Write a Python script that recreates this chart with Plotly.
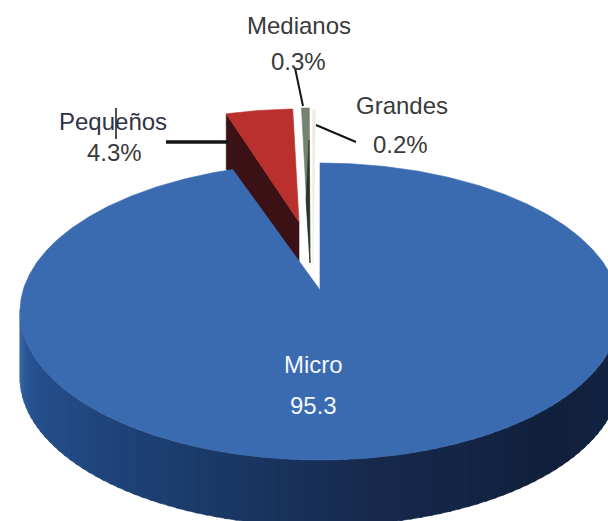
import numpy as np
import plotly.graph_objects as go

# Data
categories = ["Micro", "Pequeños", "Medianos", "Grandes"]
values = [95.3, 4.3, 0.3, 0.2]
value_labels = ["95.3", "4.3%", "0.3%", "0.2%"]

W, H = 608, 521
RX, RY, CY, CX = 300, 148.5, 311.5, 320
DEPTH = 66


def deg(v):
    return v / 100 * 360


def rim(t_deg, rx=RX, ry=RY, cx=CX, cy=CY):
    t = np.radians(t_deg)
    return cx + rx * np.sin(t), cy - ry * np.cos(t)


def face(t0, t1, tip, rx=RX, ry=RY, cx=CX, cy=CY):
    ts = np.linspace(t0, t1, max(int(abs(t1 - t0)) * 2, 2) + 1)
    xs, ys = rim(ts, rx, ry, cx, cy)
    return [tip[0], *xs, tip[0]], [tip[1], *ys, tip[1]]


def poly(x, y, color):
    return go.Scatter(x=x, y=y, mode="lines", fill="toself", fillcolor=color,
                      line=dict(width=0.6, color=color), hoverinfo="skip", showlegend=False)


def lerp(c0, c1, f):
    return tuple(a + (b - a) * f for a, b in zip(c0, c1))


fig = go.Figure()

# Angles: the big slice runs clockwise from 12 o'clock, the others follow it.
blue_end = deg(values[0])
red_t0 = blue_end - 360
red_t1 = red_t0 + deg(values[1])
med_t1 = red_t1 + deg(values[2])
gra_t1 = med_t1 + deg(values[3])

# Exploded small slices (rim is smaller: they are set further back)
SM_RX, SM_RY, SM_DEPTH = 250, 113, 55
red_tip = (299, 222)
med_tip = (310, 263)
gra_tip = (313, 265)

# Red slice: side, then top
rx0, ry0 = rim(red_t0, SM_RX, SM_RY, red_tip[0], red_tip[1])
fig.add_trace(poly([rx0, rx0, red_tip[0], red_tip[0], rx0],
                   [ry0, ry0 + SM_DEPTH, red_tip[1] + SM_DEPTH, red_tip[1], ry0], "#3a1114"))
fig.add_trace(poly(*face(red_t0, red_t1, red_tip, SM_RX, SM_RY, red_tip[0], red_tip[1]), "#b9302c"))

# Grandes slice: pale sliver
fig.add_trace(poly(*face(med_t1, gra_t1, gra_tip, SM_RX, SM_RY, gra_tip[0] + 1, 223), "#f1edde"))

# Medianos slice: grey-green top, dark strip down its lower right
fig.add_trace(poly(*face(red_t1, med_t1, med_tip, 420, SM_RY, 312, 221), "#74826f"))
fig.add_trace(poly([med_tip[0] - 1, med_tip[0] - 4, med_tip[0], med_tip[0] - 1],
                   [med_tip[1] - 123, med_tip[1] - 63, med_tip[1], med_tip[1] - 123], "#26362c"))

# Big slice: shaded side, one band per step round the front
stops = [(90, (20, 38, 70)), (130, (17, 32, 60)), (170, (23, 42, 78)),
         (210, (28, 62, 112)), (255, (40, 84, 146)), (270, (58, 108, 172))]
step = 2
for t in range(90, 270, step):
    for (a, ca), (b, cb) in zip(stops, stops[1:]):
        if a <= t <= b:
            c = lerp(ca, cb, (t - a) / (b - a))
            break
    x0, y0 = rim(t)
    x1, y1 = rim(t + step + 0.6)
    col = "rgb(%d,%d,%d)" % c
    fig.add_trace(poly([x0, x1, x1, x0, x0], [y0, y1, y1 + DEPTH, y0 + DEPTH, y0], col))

# Big slice: top face
fig.add_trace(poly(*face(0, blue_end, (CX, 290)), "#3a6bb0"))

# Labels
labels = [
    (categories[2], 299, 25, "#3a3a3a"), (value_labels[2], 298, 61, "#3a3a3a"),
    (categories[3], 402, 105, "#3a3a3a"), (value_labels[3], 400, 144, "#3a3a3a"),
    (categories[1], 113, 121, "#2f3347"), (value_labels[1], 114, 152, "#3a3a3a"),
    (categories[0], 313, 364, "#f2f6fc"), (value_labels[0], 313, 405, "#f2f6fc"),
]
for txt, x, y, col in labels:
    fig.add_annotation(x=x, y=y, text=txt, showarrow=False,
                       font=dict(family="Liberation Sans", size=24, color=col))

# Leader lines
leaders = [
    (166, 142, 228, 142, 3.5), (116, 108, 116, 139, 1.5),
    (295, 68, 303, 106, 2), (316, 125, 356, 142, 2),
]
shapes = [dict(type="line", x0=a, y0=b, x1=c, y1=d, line=dict(color="#151515", width=w), layer="above")
          for a, b, c, d, w in leaders]

fig.update_layout(
    width=W, height=H, margin=dict(l=0, r=0, t=0, b=0),
    paper_bgcolor="white", plot_bgcolor="white", showlegend=False, shapes=shapes,
    xaxis=dict(range=[0, W], visible=False, fixedrange=True),
    yaxis=dict(range=[H, 0], visible=False, fixedrange=True),
)
fig.write_html("out.html", config=dict(displayModeBar=False),
               post_script="document.body.style.margin='0';document.body.style.overflow='hidden';")
